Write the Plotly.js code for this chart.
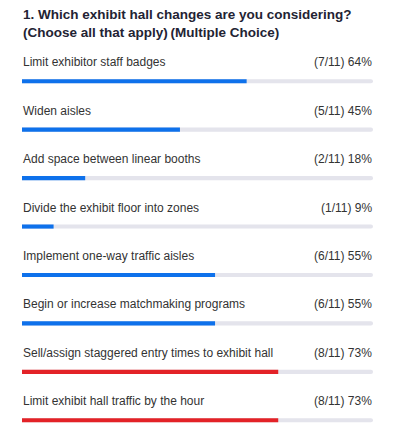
<!DOCTYPE html>
<html>
<head>
<meta charset="utf-8">
<script src="https://cdn.plot.ly/plotly-3.0.1.min.js"></script>
<style>html,body{margin:0;padding:0;background:#fff;}#chart{width:395px;height:432px;}</style>
</head>
<body>
<div id="chart"></div>
<script>
var categories = [
  "Limit exhibitor staff badges",
  "Widen aisles",
  "Add space between linear booths",
  "Divide the exhibit floor into zones",
  "Implement one-way traffic aisles",
  "Begin or increase matchmaking programs",
  "Sell/assign staggered entry times to exhibit hall",
  "Limit exhibit hall traffic by the hour"
];
var counts = [7, 5, 2, 1, 6, 6, 8, 8];
var total = 11;
var percents = [64, 45, 18, 9, 55, 55, 73, 73];
var highlight = [false, false, false, false, false, false, true, true];
var titleText = "<b>1. Which exhibit hall changes are you considering?<br>(Choose all that apply)\u2009(Multiple Choice)</b>";

var blue = "#0e71eb", red = "#e32227", track = "#e4e4ec";
var barW = 0.085;

var traceTrack = {
  type: "bar", orientation: "h",
  y: categories, x: categories.map(function(){return 100;}),
  width: barW,
  marker: {color: track, cornerradius: 2},
  hoverinfo: "skip"
};
var traceVal = {
  type: "bar", orientation: "h",
  y: categories, x: percents,
  width: barW,
  marker: {color: highlight.map(function(h){return h ? red : blue;}), cornerradius: 2},
  hoverinfo: "skip"
};

var annotations = [];
categories.forEach(function(c, i){
  annotations.push({
    xref: "x", yref: "y", x: 0, y: c, xanchor: "left", yanchor: "middle",
    yshift: 19, xshift: -1, showarrow: false, text: c,
    font: {family: "Liberation Sans, Arial, sans-serif", size: 12, color: "#333333"}
  });
  annotations.push({
    xref: "x", yref: "y", x: 100, y: c, xanchor: "right", yanchor: "middle",
    yshift: 19, xshift: 1, showarrow: false,
    text: "(" + counts[i] + "/" + total + ") " + percents[i] + "%",
    font: {family: "Liberation Sans, Arial, sans-serif", size: 12, color: "#333333"}
  });
});
annotations.push({
  xref: "paper", yref: "paper", x: 0, y: 1, xanchor: "left", yanchor: "bottom",
  xshift: -1, yshift: 15, align: "left", showarrow: false, text: titleText,
  font: {family: "Liberation Sans, Arial, sans-serif", size: 13.5, color: "#232333"}
});

var layout = {
  width: 395, height: 432,
  margin: {l: 22, r: 22, t: 57, b: 2},
  paper_bgcolor: "#ffffff", plot_bgcolor: "#ffffff",
  barmode: "overlay",
  showlegend: false,
  hovermode: false,
  xaxis: {range: [0, 100], visible: false, fixedrange: true},
  yaxis: {type: "category", range: [7.2, -0.5], visible: false, fixedrange: true},
  annotations: annotations
};

Plotly.newPlot("chart", [traceTrack, traceVal], layout, {displayModeBar: false, staticPlot: true});
</script>
</body>
</html>
